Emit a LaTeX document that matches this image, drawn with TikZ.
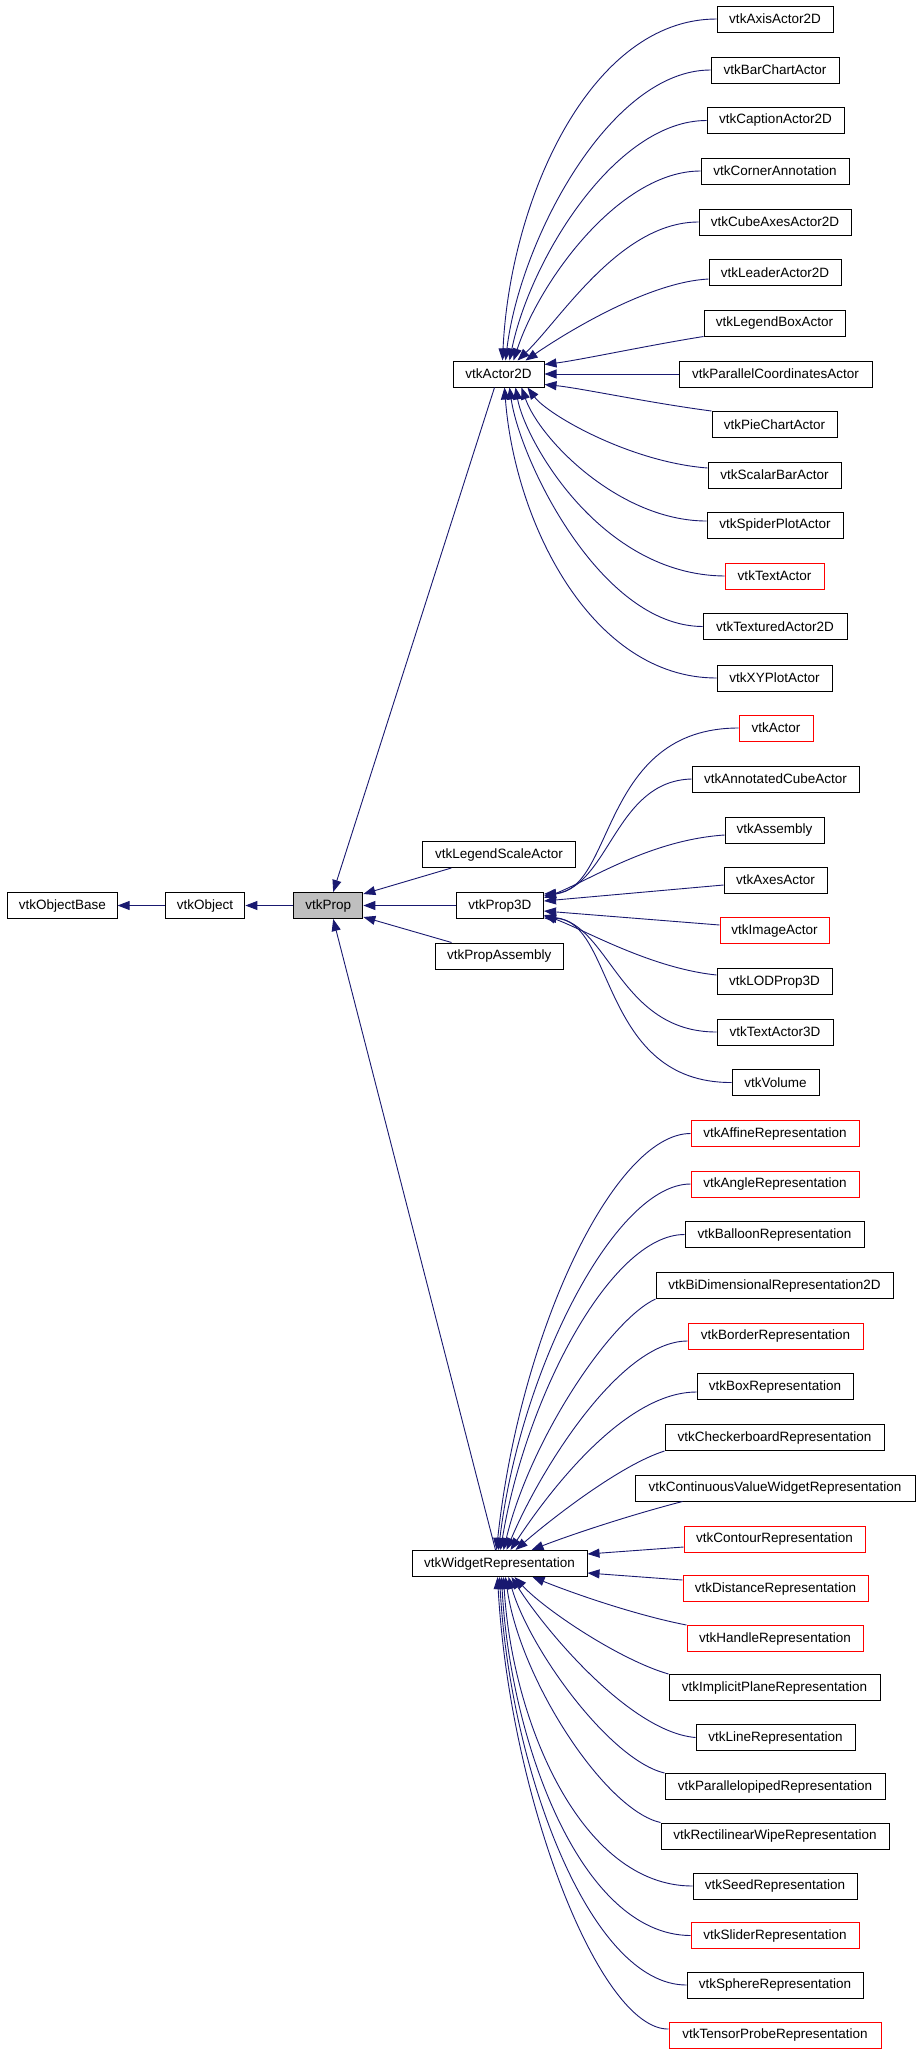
\documentclass[tikz,border=0pt]{standalone}
\usepackage{fontspec}
\setmainfont{Liberation Sans}
\usetikzlibrary{arrows.meta}
\definecolor{edgeblue}{HTML}{191970}
\definecolor{propgray}{HTML}{BFBFBF}
\newcommand\cedge[4]{\draw[edge] (#1) .. controls (#2) and (#3) .. (#4);}
\begin{document}
\begin{tikzpicture}[x=1pt,y=-1pt,
  box/.style={draw=black, line width=1pt, minimum height=26pt, inner sep=0pt, font=\fontsize{13.5}{16}\selectfont},
  redbox/.style={box, draw=red},
  edge/.style={draw=edgeblue, line width=0.9pt, -{Triangle[length=12pt,width=9pt]}}]
\useasboundingbox[fill=white] (0,0) rectangle (920,2064);
% main chain
\node[box, minimum width=109.4pt] (ob) at (62.4,905.5) {vtkObjectBase};
\node[box, minimum width=79.6pt] (obj) at (205.1,905.5) {vtkObject};
\node[box, minimum width=69.3pt, fill=propgray] (prop) at (328.2,905.5) {vtkProp};
\node[box, minimum width=152.3pt] (lsa) at (499,854.5) {vtkLegendScaleActor};
\node[box, minimum width=87.3pt] (p3d) at (499.8,905.5) {vtkProp3D};
\node[box, minimum width=128.3pt] (pa) at (499.2,956) {vtkPropAssembly};
\node[box, minimum width=91pt] (a2d) at (498.5,374) {vtkActor2D};
\node[box, minimum width=175pt] (wr) at (499.5,1563.5) {vtkWidgetRepresentation};
% Actor2D children
\node[box, minimum width=116pt] (ax) at (775,19) {vtkAxisActor2D};
\node[box, minimum width=128pt] (bar) at (775,70) {vtkBarChartActor};
\node[box, minimum width=137pt] (cap) at (775.5,120.5) {vtkCaptionActor2D};
\node[box, minimum width=148pt] (cor) at (775,171) {vtkCornerAnnotation};
\node[box, minimum width=152pt] (cub) at (775,222) {vtkCubeAxesActor2D};
\node[box, minimum width=132pt] (lea) at (775,272.5) {vtkLeaderActor2D};
\node[box, minimum width=141pt] (leg) at (774.5,323) {vtkLegendBoxActor};
\node[box, minimum width=193pt] (par) at (775.5,374) {vtkParallelCoordinatesActor};
\node[box, minimum width=125pt] (pie) at (774.5,424.5) {vtkPieChartActor};
\node[box, minimum width=133pt] (sca) at (774.5,475) {vtkScalarBarActor};
\node[box, minimum width=136pt] (spi) at (775,525.5) {vtkSpiderPlotActor};
\node[redbox, minimum width=99pt] (txt) at (774.5,576) {vtkTextActor};
\node[box, minimum width=144pt] (tex) at (775,626.5) {vtkTexturedActor2D};
\node[box, minimum width=115pt] (xy) at (774.5,678) {vtkXYPlotActor};
% Prop3D children
\node[redbox, minimum width=74pt] (act) at (776,728) {vtkActor};
\node[box, minimum width=167pt] (acu) at (775.5,779) {vtkAnnotatedCubeActor};
\node[box, minimum width=99pt] (asm) at (774.5,830) {vtkAssembly};
\node[box, minimum width=103pt] (axe) at (775.5,880) {vtkAxesActor};
\node[redbox, minimum width=109pt] (ima) at (774.5,930.5) {vtkImageActor};
\node[box, minimum width=115pt] (lod) at (774.5,981.5) {vtkLODProp3D};
\node[box, minimum width=116pt] (ta3) at (775,1032) {vtkTextActor3D};
\node[box, minimum width=87pt] (vol) at (775.5,1082.5) {vtkVolume};
% Widget children
\node[redbox, minimum width=168pt] (aff) at (775,1133.5) {vtkAffineRepresentation};
\node[redbox, minimum width=168pt] (ang) at (775,1184) {vtkAngleRepresentation};
\node[box, minimum width=179pt] (bal) at (774.5,1234.5) {vtkBalloonRepresentation};
\node[box, minimum width=237pt] (bid) at (774.5,1285.5) {vtkBiDimensionalRepresentation2D};
\node[redbox, minimum width=175pt] (bor) at (775.5,1336) {vtkBorderRepresentation};
\node[box, minimum width=156pt] (box) at (775,1386.5) {vtkBoxRepresentation};
\node[box, minimum width=219pt] (che) at (774.5,1437.5) {vtkCheckerboardRepresentation};
\node[box, minimum width=280pt] (con) at (775,1488) {vtkContinuousValueWidgetRepresentation};
\node[redbox, minimum width=181pt] (ctr) at (774.5,1539) {vtkContourRepresentation};
\node[redbox, minimum width=185pt] (dis) at (775.5,1588.5) {vtkDistanceRepresentation};
\node[redbox, minimum width=176pt] (han) at (775,1638.5) {vtkHandleRepresentation};
\node[box, minimum width=211pt] (imp) at (774.5,1687.5) {vtkImplicitPlaneRepresentation};
\node[box, minimum width=159pt] (lin) at (775.5,1737.5) {vtkLineRepresentation};
\node[box, minimum width=220pt] (ppd) at (775,1786.5) {vtkParallelopipedRepresentation};
\node[box, minimum width=228pt] (rec) at (775,1836) {vtkRectilinearWipeRepresentation};
\node[box, minimum width=164pt] (see) at (775,1886) {vtkSeedRepresentation};
\node[redbox, minimum width=168pt] (sli) at (775,1935.5) {vtkSliderRepresentation};
\node[box, minimum width=176pt] (sph) at (775,1985) {vtkSphereRepresentation};
\node[redbox, minimum width=212pt] (ten) at (775,2035) {vtkTensorProbeRepresentation};
% main chain edges
\draw[edge] (obj.west) -- (ob.east);
\draw[edge] (prop.west) -- (obj.east);
\draw[edge] (p3d.west) -- (prop.east);
\draw[edge] ([xshift=29pt]lsa.south west) -- ([yshift=-2pt]prop.north east);
\draw[edge] ([xshift=17pt]pa.north west) -- ([yshift=2pt]prop.south east);
\draw[edge] ([xshift=-4pt]a2d.south) -- ([xshift=5pt]prop.north);
\draw[edge] ([xshift=-4pt]wr.north) -- ([xshift=5pt]prop.south);
% Actor2D edges
\cedge{ax.west}{590,19}{510,200}{[xshift=50pt]a2d.north west}
\cedge{bar.west}{610,70}{520,240}{[xshift=53pt]a2d.north west}
\cedge{cap.west}{615,120.5}{530,260}{[xshift=57pt]a2d.north west}
\cedge{cor.west}{620,171}{540,280}{[xshift=61pt]a2d.north west}
\cedge{cub.west}{620,222}{560,320}{[xshift=65pt]a2d.north west}
\cedge{[yshift=-6.5pt]lea.west}{650,282}{570,330}{[xshift=73pt]a2d.north west}
\cedge{leg.south west}{650,345}{580,360}{[yshift=-4pt]a2d.north east}
\draw[edge] (par.west) -- (a2d.east);
\cedge{pie.north west}{650,403}{580,388}{[yshift=3pt]a2d.south east}
\cedge{[yshift=7pt]sca.west}{630,462}{548,415}{[xshift=75pt]a2d.south west}
\cedge{[yshift=4.5pt]spi.west}{620,521}{540,440}{[xshift=69pt]a2d.south west}
\cedge{txt.west}{600,575}{525,440}{[xshift=63pt]a2d.south west}
\cedge{tex.west}{600,626}{520,460}{[xshift=57pt]a2d.south west}
\cedge{xy.west}{592,678}{515,524}{[xshift=52pt]a2d.south west}
% Prop3D edges
\cedge{act.west}{600,728}{615,890}{[yshift=-2pt]p3d.north east}
\cedge{acu.west}{615,781}{610,885}{[yshift=-4pt]p3d.north east}
\cedge{[yshift=-5pt]asm.west}{650,840}{590,880}{[yshift=-6pt]p3d.north east}
\draw[edge] ([yshift=-5pt]axe.west) -- ([yshift=4.5pt]p3d.east);
\draw[edge] ([yshift=5.5pt]ima.west) -- ([yshift=-5.5pt]p3d.east);
\cedge{[yshift=6.5pt]lod.west}{650,968}{585,930}{[yshift=4pt]p3d.south east}
\cedge{ta3.west}{620,1032}{610,925}{[yshift=3pt]p3d.south east}
\cedge{vol.west}{600,1083}{615,920}{[yshift=1pt]p3d.south east}
% Widget edges
\cedge{aff.west}{615,1133.5}{520,1330}{[xshift=85pt]wr.north west}
\cedge{ang.west}{615,1184}{520,1370}{[xshift=87pt]wr.north west}
\cedge{bal.west}{610,1234.5}{525,1400}{[xshift=89pt]wr.north west}
\cedge{bid.south west}{610,1320}{530,1440}{[xshift=92pt]wr.north west}
\cedge{[yshift=-5pt]bor.west}{620,1341}{540,1470}{[xshift=95pt]wr.north west}
\cedge{[yshift=-5.5pt]box.west}{625,1392}{550,1490}{[xshift=99pt]wr.north west}
\cedge{che.south west}{620,1465}{550,1520}{[xshift=104pt]wr.north west}
\cedge{[xshift=48pt]con.south west}{630,1515}{570,1535}{[xshift=120pt]wr.north west}
\draw[edge] ([yshift=-8pt]ctr.west) -- ([yshift=-4pt]wr.north east);
\draw[edge] ([yshift=8.5pt]dis.west) -- ([yshift=4pt]wr.south east);
\cedge{han.north west}{640,1616}{580,1596}{[xshift=-55pt]wr.south east}
\cedge{imp.north west}{620,1660}{545,1610}{[xshift=103pt]wr.south west}
\cedge{lin.west}{630,1732}{545,1630}{[xshift=100pt]wr.south west}
\cedge{ppd.north west}{610,1760}{530,1650}{[xshift=97pt]wr.south west}
\cedge{rec.north west}{605,1810}{520,1680}{[xshift=94pt]wr.south west}
\cedge{see.west}{580,1886}{512,1720}{[xshift=92pt]wr.south west}
\cedge{sli.west}{580,1935}{510,1740}{[xshift=90pt]wr.south west}
\cedge{sph.west}{590,1985}{510,1770}{[xshift=88pt]wr.south west}
\cedge{[yshift=6pt]ten.west}{600,2030}{510,1800}{[xshift=86pt]wr.south west}
\end{tikzpicture}
\end{document}
